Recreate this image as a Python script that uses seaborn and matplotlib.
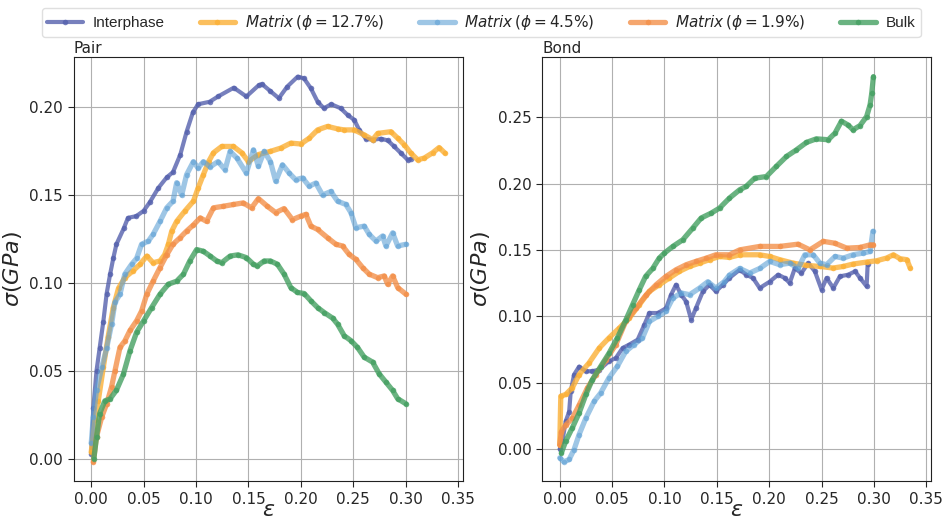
import pandas as pd
import seaborn as sns
import matplotlib
matplotlib.use("Agg")
import matplotlib.pyplot as plt

# series names and colours
names = ["Interphase", "Matrix 12.7", "Matrix 4.5", "Matrix 1.9", "Bulk"]
labels = ["Interphase", r"$Matrix\,(\phi=12.7\%)$", r"$Matrix\,(\phi=4.5\%)$",
          r"$Matrix\,(\phi=1.9\%)$", "Bulk"]
colors = ["#5561ad", "#fbb036", "#5da0d5", "#f3904a", "#45a062"]

# ---- Pair panel (strain, stress in GPa) ----
pair_inter_eps = [0, 0.002, 0.005, 0.008, 0.0115, 0.0147, 0.018, 0.021, 0.024, 0.031, 0.035, 0.043,
                  0.050, 0.056, 0.064, 0.072, 0.078, 0.085, 0.091, 0.097, 0.102, 0.113, 0.121, 0.136,
                  0.148, 0.160, 0.163, 0.171, 0.179, 0.187, 0.197, 0.203, 0.2096, 0.216, 0.222, 0.229,
                  0.238, 0.2446, 0.251, 0.2557, 0.262, 0.2685, 0.2764, 0.283, 0.289, 0.2955, 0.302, 0.305]
pair_inter_sig = [0.003, 0.029, 0.050, 0.063, 0.078, 0.094, 0.105, 0.114, 0.122, 0.131, 0.137, 0.138,
                  0.141, 0.146, 0.154, 0.160, 0.163, 0.173, 0.186, 0.197, 0.2016, 0.203, 0.206, 0.211,
                  0.206, 0.2125, 0.213, 0.209, 0.205, 0.2116, 0.2173, 0.2163, 0.2106, 0.203, 0.1993, 0.2016,
                  0.1993, 0.1955, 0.1927, 0.187, 0.182, 0.1814, 0.182, 0.181, 0.1776, 0.1738, 0.170, 0.1706]

pair_m127_eps = [0, 0.0035, 0.0067, 0.0115, 0.016, 0.021, 0.026, 0.032, 0.040, 0.0465, 0.053, 0.059,
                 0.0656, 0.070, 0.0736, 0.0768, 0.0815, 0.0895, 0.0975, 0.102, 0.107, 0.112, 0.1166,
                 0.1245, 0.1357, 0.1436, 0.150, 0.1595, 0.171, 0.181, 0.1904, 0.200, 0.208, 0.216,
                 0.2255, 0.235, 0.2414, 0.251, 0.2605, 0.2685, 0.2733, 0.286, 0.2924, 0.2987, 0.305,
                 0.3115, 0.3178, 0.3258, 0.332, 0.3375]
pair_m127_sig = [0.004, 0.022, 0.033, 0.052, 0.069, 0.086, 0.097, 0.103, 0.107, 0.1106, 0.1153, 0.1115,
                 0.1125, 0.116, 0.122, 0.1295, 0.135, 0.141, 0.1465, 0.154, 0.1616, 0.169, 0.174,
                 0.1776, 0.1776, 0.174, 0.169, 0.173, 0.1748, 0.1767, 0.1795, 0.179, 0.1823, 0.187,
                 0.189, 0.1876, 0.187, 0.187, 0.1842, 0.1814, 0.185, 0.186, 0.1823, 0.1786, 0.1738,
                 0.170, 0.171, 0.174, 0.177, 0.1738]

pair_m45_eps = [0, 0.002, 0.005, 0.010, 0.0147, 0.0194, 0.0226, 0.0274, 0.032, 0.0385, 0.0433, 0.048,
                0.0545, 0.059, 0.0656, 0.072, 0.078, 0.0815, 0.0863, 0.091, 0.0975, 0.102, 0.107, 0.1134,
                0.121, 0.1277, 0.1325, 0.139, 0.148, 0.1548, 0.1595, 0.165, 0.171, 0.176, 0.1825, 0.1889,
                0.195, 0.2016, 0.208, 0.2143, 0.2207, 0.2287, 0.235, 0.243, 0.2478, 0.2525, 0.2605,
                0.2653, 0.2717, 0.278, 0.2812, 0.2876, 0.2924, 0.3003]
pair_m45_sig = [0.009, 0.024, 0.039, 0.052, 0.063, 0.0766, 0.089, 0.0936, 0.105, 0.1106, 0.114, 0.122,
                0.1238, 0.1276, 0.135, 0.1427, 0.1465, 0.157, 0.150, 0.1616, 0.169, 0.1653, 0.169, 0.166,
                0.169, 0.1644, 0.1748, 0.171, 0.1625, 0.1757, 0.1663, 0.1748, 0.169, 0.1578, 0.1672,
                0.1625, 0.1587, 0.1597, 0.155, 0.1568, 0.150, 0.152, 0.1465, 0.1446, 0.140, 0.1314,
                0.1323, 0.1276, 0.1238, 0.1267, 0.121, 0.1285, 0.121, 0.122]

pair_m19_eps = [0.002, 0.005, 0.010, 0.0147, 0.0194, 0.0226, 0.0274, 0.032, 0.037, 0.0433, 0.048, 0.053,
                0.059, 0.0656, 0.072, 0.078, 0.0847, 0.091, 0.0975, 0.104, 0.110, 0.1166, 0.126, 0.1357,
                0.145, 0.153, 0.1595, 0.168, 0.176, 0.184, 0.192, 0.200, 0.2048, 0.2096, 0.216, 0.2255,
                0.2334, 0.2398, 0.246, 0.2525, 0.259, 0.2653, 0.2733, 0.2796, 0.2828, 0.2876, 0.2924, 0.3003]
pair_m19_sig = [-0.0017, 0.0125, 0.0238, 0.0313, 0.041, 0.050, 0.0634, 0.067, 0.073, 0.0785, 0.084, 0.0936,
                0.101, 0.1087, 0.116, 0.122, 0.1257, 0.1295, 0.133, 0.137, 0.135, 0.1427, 0.1436, 0.1446,
                0.1455, 0.1427, 0.148, 0.1436, 0.140, 0.1423, 0.136, 0.138, 0.139, 0.1323, 0.1304, 0.1257,
                0.122, 0.121, 0.1163, 0.1134, 0.1087, 0.105, 0.103, 0.104, 0.0993, 0.104, 0.0974, 0.0936]

pair_bulk_eps = [0.0025, 0.005, 0.008, 0.013, 0.0178, 0.024, 0.0306, 0.037, 0.0433, 0.050, 0.0576, 0.0656,
                 0.0736, 0.0815, 0.088, 0.094, 0.1006, 0.107, 0.1134, 0.1197, 0.1245, 0.1325, 0.140, 0.148,
                 0.1548, 0.1586, 0.165, 0.171, 0.1777, 0.184, 0.1904, 0.1968, 0.2032, 0.2096, 0.216, 0.2223,
                 0.2303, 0.235, 0.2414, 0.2478, 0.254, 0.2605, 0.2685, 0.2748, 0.2812, 0.2876, 0.2924, 0.3003]
pair_bulk_sig = [0.0002, 0.0125, 0.0257, 0.033, 0.034, 0.039, 0.048, 0.0615, 0.072, 0.0785, 0.086, 0.0936,
                 0.0993, 0.101, 0.105, 0.1125, 0.119, 0.118, 0.1153, 0.1125, 0.1115, 0.1153, 0.116, 0.1144,
                 0.1106, 0.1097, 0.1125, 0.1125, 0.1106, 0.105, 0.0974, 0.0946, 0.094, 0.0898, 0.086, 0.0832,
                 0.080, 0.0766, 0.070, 0.0672, 0.0634, 0.0578, 0.055, 0.0483, 0.0436, 0.0389, 0.0342, 0.0313]

# ---- Bond panel ----
bond_inter_eps = [0, 0.0025, 0.0057, 0.009, 0.0105, 0.0137, 0.0185, 0.025, 0.031, 0.0377, 0.047, 0.0536,
                  0.060, 0.0664, 0.0744, 0.0808, 0.0856, 0.0936, 0.1015, 0.1063, 0.111, 0.116, 0.1207,
                  0.1255, 0.130, 0.1367, 0.143, 0.149, 0.1558, 0.162, 0.1718, 0.178, 0.1845, 0.1909, 0.2005,
                  0.2085, 0.2148, 0.2196, 0.2244, 0.2308, 0.2372, 0.2436, 0.250, 0.2548, 0.2612, 0.2675,
                  0.2755, 0.282, 0.2867, 0.293, 0.294]
bond_inter_sig = [0, 0.0058, 0.0208, 0.028, 0.0434, 0.056, 0.062, 0.0585, 0.0585, 0.0597, 0.066, 0.0685,
                  0.076, 0.0786, 0.0823, 0.0936, 0.1024, 0.1024, 0.106, 0.1162, 0.1237, 0.1162, 0.111,
                  0.0974, 0.106, 0.1187, 0.1237, 0.1187, 0.1237, 0.1288, 0.135, 0.1313, 0.1288, 0.1212, 0.126,
                  0.1313, 0.1288, 0.125, 0.136, 0.1325, 0.140, 0.1338, 0.120, 0.1288, 0.1212, 0.130,
                  0.1313, 0.1338, 0.1288, 0.1225, 0.139]

bond_m127_eps = [0, 0.001, 0.0057, 0.012, 0.0185, 0.028, 0.0377, 0.047, 0.0568, 0.0664, 0.076, 0.0856,
                 0.095, 0.1047, 0.1143, 0.124, 0.1335, 0.143, 0.1526, 0.162, 0.1718, 0.1909, 0.2005, 0.210,
                 0.2228, 0.2356, 0.2484, 0.261, 0.2707, 0.280, 0.293, 0.3026, 0.312, 0.3186, 0.325, 0.3314,
                 0.3346]
bond_m127_sig = [0.003, 0.0397, 0.041, 0.046, 0.056, 0.0648, 0.076, 0.0836, 0.091, 0.0986, 0.1087, 0.1187,
                 0.1237, 0.1288, 0.1338, 0.1375, 0.140, 0.1426, 0.145, 0.1443, 0.1463, 0.1463, 0.145, 0.1426,
                 0.140, 0.1383, 0.1375, 0.1363, 0.1375, 0.1393, 0.1408, 0.1418, 0.1438, 0.1463, 0.1433, 0.1426,
                 0.1363]

bond_m45_eps = [0, 0.004, 0.009, 0.0137, 0.0185, 0.025, 0.033, 0.039, 0.047, 0.055, 0.063, 0.071, 0.079,
                0.0856, 0.0936, 0.1015, 0.108, 0.116, 0.124, 0.1335, 0.1414, 0.149, 0.157, 0.162, 0.1718,
                0.1813, 0.1909, 0.2005, 0.210, 0.2196, 0.2276, 0.234, 0.242, 0.2484, 0.2548, 0.2628, 0.2707,
                0.280, 0.290, 0.2963, 0.299]
bond_m45_sig = [-0.0068, -0.0098, -0.008, -0.0005, 0.0108, 0.0233, 0.036, 0.042, 0.0535, 0.0622, 0.0735,
                0.0786, 0.0836, 0.096, 0.0999, 0.1037, 0.1137, 0.1175, 0.1162, 0.1212, 0.126, 0.1212, 0.126,
                0.131, 0.136, 0.1325, 0.136, 0.1413, 0.1388, 0.140, 0.136, 0.1463, 0.1463, 0.140, 0.1388,
                0.145, 0.1438, 0.1463, 0.1476, 0.1488, 0.164]

bond_m19_eps = [0, 0.0016, 0.0057, 0.012, 0.0185, 0.0265, 0.0345, 0.044, 0.0536, 0.063, 0.0728, 0.0824,
                0.092, 0.1015, 0.111, 0.1207, 0.130, 0.140, 0.149, 0.162, 0.1718, 0.1909, 0.210, 0.2276,
                0.2388, 0.2516, 0.2628, 0.274, 0.2867, 0.2963, 0.2995]
bond_m19_sig = [0.003, 0.013, 0.018, 0.023, 0.033, 0.046, 0.056, 0.067, 0.0786, 0.096, 0.106, 0.116,
                0.1237, 0.130, 0.135, 0.1388, 0.1413, 0.1438, 0.1463, 0.1463, 0.150, 0.1526, 0.1526, 0.1543,
                0.150, 0.1564, 0.155, 0.1513, 0.1518, 0.1538, 0.1538]

bond_bulk_eps = [0.0016, 0.0057, 0.012, 0.0185, 0.025, 0.031, 0.039, 0.047, 0.055, 0.063, 0.0696, 0.076,
                 0.082, 0.0888, 0.095, 0.100, 0.108, 0.1175, 0.127, 0.135, 0.1446, 0.1526, 0.162, 0.1718,
                 0.178, 0.1861, 0.1973, 0.2069, 0.2165, 0.226, 0.2356, 0.245, 0.2564, 0.2628, 0.269, 0.2755,
                 0.280, 0.2867, 0.293, 0.2963, 0.2979, 0.2995]
bond_bulk_sig = [-0.003, 0.0058, 0.0158, 0.027, 0.041, 0.052, 0.062, 0.072, 0.0836, 0.097, 0.1087, 0.120,
                 0.130, 0.136, 0.1438, 0.1476, 0.1526, 0.1576, 0.1664, 0.174, 0.1777, 0.1815, 0.189, 0.1953,
                 0.1978, 0.204, 0.2053, 0.213, 0.2204, 0.2254, 0.231, 0.2337, 0.233, 0.238, 0.247, 0.244,
                 0.2405, 0.2437, 0.2505, 0.2593, 0.268, 0.2806]

pair = [(pair_inter_eps, pair_inter_sig), (pair_m127_eps, pair_m127_sig), (pair_m45_eps, pair_m45_sig),
        (pair_m19_eps, pair_m19_sig), (pair_bulk_eps, pair_bulk_sig)]
bond = [(bond_inter_eps, bond_inter_sig), (bond_m127_eps, bond_m127_sig), (bond_m45_eps, bond_m45_sig),
        (bond_m19_eps, bond_m19_sig), (bond_bulk_eps, bond_bulk_sig)]

sns.set_style("ticks")
plt.rcParams["font.family"] = ["DejaVu Sans"]

fig = plt.figure(figsize=(9.43, 5.19), dpi=100)
ax1 = fig.add_axes([0.078, 0.073, 0.4127, 0.8165])
ax2 = fig.add_axes([0.5748, 0.073, 0.4125, 0.8165])


def draw(ax, series, title):
    for (eps, sig), name, lab, col in zip(series, names, labels, colors):
        df = pd.DataFrame({"strain": eps, "stress": sig})
        alpha = 0.6 if name == "Matrix 4.5" else 0.8
        lw = 3.0 if name == "Interphase" else 3.8
        sns.lineplot(data=df, x="strain", y="stress", ax=ax, sort=False, estimator=None,
                     color=col, label=lab, linewidth=lw, marker="o", markersize=4,
                     markeredgewidth=0, alpha=alpha)
    ax.grid(True, color="#b0b0b0", linewidth=0.8)
    ax.set_axisbelow(True)
    ax.set_title(title, loc="left", fontsize=11, pad=3)
    ax.set_xlabel(r"$\epsilon$", fontsize=16, labelpad=-5)
    ax.set_ylabel(r"$\sigma(GPa)$", fontsize=16)
    ax.tick_params(labelsize=11, length=4)
    for s in ax.spines.values():
        s.set_color("#222222")
    ax.get_legend().remove()


draw(ax1, pair, "Pair")
draw(ax2, bond, "Bond")
ax1.set_xlim(-0.0169, 0.3545)
ax2.set_xlim(-0.0169, 0.3545)

handles, labs = ax1.get_legend_handles_labels()
fig.legend(handles, labs, loc="upper left", bbox_to_anchor=(0.0445, 0.985),
           ncol=5, prop={"family": "Liberation Sans", "size": 11}, frameon=True,
           borderaxespad=0, borderpad=0.35, handlelength=2.35, handletextpad=0.6,
           columnspacing=2.3, edgecolor="#d8d8d8")

fig.savefig("out.png", dpi=100)
